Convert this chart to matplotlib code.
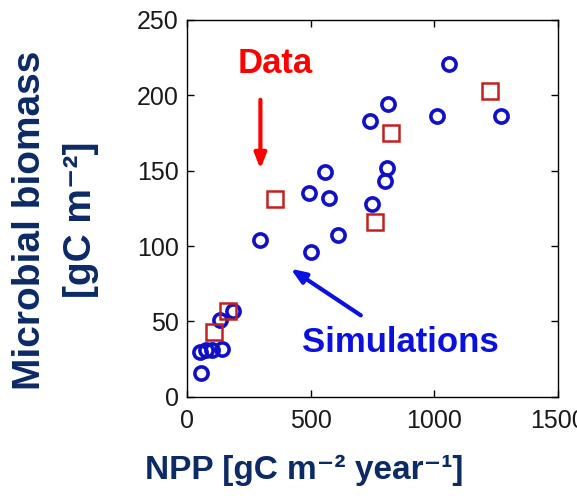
import matplotlib
matplotlib.use('Agg')
import matplotlib.pyplot as plt

plt.rcParams['font.family'] = ['Liberation Sans', 'DejaVu Sans']

# simulations (blue circles)
sim_x = [58, 52, 79, 100, 140, 133, 187, 295, 503, 492, 560, 573, 611, 747,
         800, 808, 740, 813, 1011, 1061, 1271]
sim_y = [16, 30, 31, 31, 32, 51, 57, 104, 96, 135, 149, 132, 107, 128,
         143, 152, 183, 194, 186, 221, 186]

# observations (red squares)
obs_x = [110, 164, 356, 759, 826, 1224]
obs_y = [43, 57, 131, 116, 175, 203]

xticks = [0, 500, 1000, 1500]
yticks = [0, 50, 100, 150, 200, 250]

navy = '#0b2a66'

fig = plt.figure(figsize=(5.77, 4.96), dpi=100)
ax = fig.add_axes([0.324, 0.2, 0.643, 0.76])

ax.plot(sim_x, sim_y, linestyle='', marker='o', ms=9.5, mfc='none',
        mec='#1010c8', mew=2.6)
ax.plot(obs_x, obs_y, linestyle='', marker='s', ms=11, mfc='none',
        mec='#c42020', mew=1.8)

ax.set_xlim(0, 1500)
ax.set_ylim(0, 250)
ax.set_xticks(xticks)
ax.set_yticks(yticks)
ax.tick_params(direction='in', top=True, right=True, length=5, width=1,
               labelsize=18, labelcolor='#1a1a1a', pad=6)
ax.tick_params(axis='x', pad=9)
for s in ax.spines.values():
    s.set_linewidth(1)

fig.text(0.527, 0.052, 'NPP [gC m⁻² year⁻¹]', fontsize=24,
         fontweight='bold', color=navy, ha='center', va='center')
fig.text(0.052, 0.556, 'Microbial biomass', rotation=90, fontsize=28,
         fontweight='bold', color=navy, ha='center', va='center')
fig.text(0.14, 0.556, '[gC m⁻²]', rotation=90, fontsize=28,
         fontweight='bold', color=navy, ha='center', va='center')

# annotations
ax.text(356, 221, 'Data', color='#ff0000', fontsize=25, fontweight='bold',
        ha='center', va='center')
ax.annotate('', xy=(297, 151), xytext=(297, 197),
            arrowprops=dict(arrowstyle='-|>,head_length=0.9,head_width=0.35',
                            color='#ff0000', lw=3, shrinkA=0, shrinkB=0))
ax.text(861, 36, 'Simulations', color='#0a10e0', fontsize=25,
        fontweight='bold', ha='center', va='center')
ax.annotate('', xy=(419, 85), xytext=(703, 54),
            arrowprops=dict(arrowstyle='-|>,head_length=0.9,head_width=0.35',
                            color='#0a10e0', lw=3, shrinkA=0, shrinkB=0))

fig.savefig('out.png', dpi=100)
